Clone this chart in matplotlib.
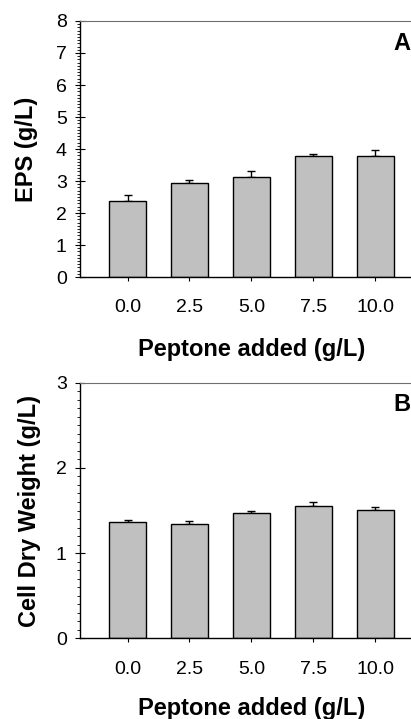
import numpy as np
import matplotlib.pyplot as plt
from matplotlib.ticker import MultipleLocator

plt.rcParams['font.family'] = ['Liberation Sans', 'DejaVu Sans']

peptone = ["0.0", "2.5", "5.0", "7.5", "10.0"]
eps = [2.37, 2.95, 3.13, 3.77, 3.78]
eps_err = [0.20, 0.09, 0.18, 0.08, 0.18]
cdw = [1.36, 1.34, 1.47, 1.55, 1.51]
cdw_err = [0.03, 0.04, 0.03, 0.05, 0.03]

fig = plt.figure(figsize=(4.11, 7.19), dpi=100)
axA = fig.add_axes([0.1946, 0.6147, 0.834, 0.3561])
axB = fig.add_axes([0.1946, 0.1122, 0.834, 0.3555])


def draw(ax, vals, errs, ymax, ylabel, ypad, xpad, tag, tag_y):
    x = np.arange(len(vals))
    ax.bar(x, vals, width=0.6, color="#c0c0c0", edgecolor="black", linewidth=1.0, zorder=2)
    ax.errorbar(x, vals, yerr=[np.zeros(len(errs)), errs], fmt="none", ecolor="black",
                elinewidth=1.0, capsize=3, capthick=1.0, zorder=1)
    ax.set_xlim(-0.77, len(vals) - 1 + 0.77)
    ax.set_ylim(0, ymax)
    ax.set_xticks(x)
    ax.set_xticklabels(peptone)
    ax.yaxis.set_major_locator(MultipleLocator(1))
    ax.yaxis.set_minor_locator(MultipleLocator(0.1))
    ax.tick_params(axis="x", direction="out", length=3, width=0.8, pad=13, labelsize=14)
    ax.tick_params(axis="y", which="major", direction="inout", length=7, width=0.8, pad=6, labelsize=14)
    ax.tick_params(axis="y", which="minor", direction="out", length=2.5, width=0.6)
    ax.spines["right"].set_visible(False)
    ax.spines["top"].set_color("#6f6f6f")
    for s in ("left", "bottom"):
        ax.spines[s].set_linewidth(1.0)
    ax.set_xlabel("Peptone added (g/L)", fontsize=17, fontweight="bold", labelpad=xpad)
    ax.set_ylabel(ylabel, fontsize=17, fontweight="bold", labelpad=ypad)
    ax.text(0.915, tag_y, tag, transform=ax.transAxes, fontsize=17, fontweight="bold",
            ha="left", va="center")


draw(axA, eps, eps_err, 8, "EPS (g/L)", 13, 16, "A", 0.912)
draw(axB, cdw, cdw_err, 3, "Cell Dry Weight (g/L)", 11, 14, "B", 0.915)

fig.savefig("out.png", dpi=100)
